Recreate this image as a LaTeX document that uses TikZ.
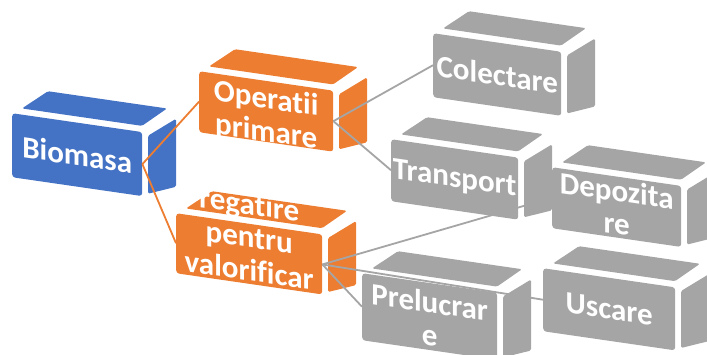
\documentclass[tikz,border=0pt]{standalone}
\usepackage{fontspec}
\setmainfont{Carlito}[Ligatures=NoCommon]
\usetikzlibrary{backgrounds}

\definecolor{smblue}{HTML}{4472C4}
\definecolor{smorange}{HTML}{ED7D31}
\definecolor{smgray}{HTML}{A5A5A5}

\pgfdeclarelayer{lvl0}
\pgfdeclarelayer{con0}
\pgfdeclarelayer{lvl1}
\pgfdeclarelayer{con1}
\pgfsetlayers{lvl0,con0,lvl1,con1,main}

\tikzset{
	face/.style={rectangle, rounded corners=3pt, anchor=north west, inner sep=0pt, transform shape},
	facetext/.style={inner sep=0pt, transform shape, text=white, align=center,
		font=\bfseries\fontsize{31}{33}\selectfont},
	link/.style={line width=1.8pt}
}

% [text options] name, front corner, width, height, colour, text
\newcommand{\cubebox}[7][]{%
	\begin{scope}[shift={(#3)}, yslant=-.145]
		\fill [#6, rounded corners=1.5pt] (10,-6) -- (#4,-6) -- (#4+25,-27) -- (36,-27) -- cycle;
		\fill [#6, rounded corners=1.5pt] (#4+6,3) -- (#4+34,-18) -- (#4+34,#5-14) -- (#4+6,#5-3) -- cycle;
		\node [face, fill=#6, minimum width=#4, minimum height=#5] (#2) at (0,0) {};
		\node [facetext, #1] (#2-t) at (#2.center) {#7};
	\end{scope}}

\begin{document}
\begin{tikzpicture}[x=1pt, y=-1pt]
	\useasboundingbox (0,0) rectangle (707,354);
	\begin{pgfonlayer}{lvl0}
		\cubebox{biomasa}{12,113}{130}{64}{smblue}{Biomasa}
	\end{pgfonlayer}
	\begin{pgfonlayer}{lvl1}
		\cubebox[yshift=-5pt]{operatii}{199,71}{134}{61}{smorange}{Operatii\\primare}
		\cubebox[yshift=17pt]{pregatire}{176,213}{146}{60}{smorange}{regatire\\pentru\\valorificar}
	\end{pgfonlayer}
	\cubebox{colectare}{433,33}{128}{64}{smgray}{Colectare}
	\cubebox{transport}{391,139}{127}{62}{smgray}{Transport}
	\cubebox{depozitare}{552,167}{129}{61}{smgray}{Depozita\\re}
	\cubebox[yshift=-2pt]{prelucrare}{362,273}{135}{67}{smgray}{Prelucrar\\e}
	\cubebox{uscare}{543,268}{132}{63}{smgray}{Uscare}
	\begin{pgfonlayer}{con0}
		\foreach \t in {operatii, pregatire}
			\draw [link, smorange] (biomasa.east) -- (\t.west);
	\end{pgfonlayer}
	\begin{pgfonlayer}{con1}
		\foreach \t in {colectare, transport}
			\draw [link, smgray] (operatii.east) -- (\t.west);
		\foreach \t in {depozitare, uscare, prelucrare}
			\draw [link, smgray] (pregatire.east) -- (\t.west);
	\end{pgfonlayer}
\end{tikzpicture}
\end{document}
